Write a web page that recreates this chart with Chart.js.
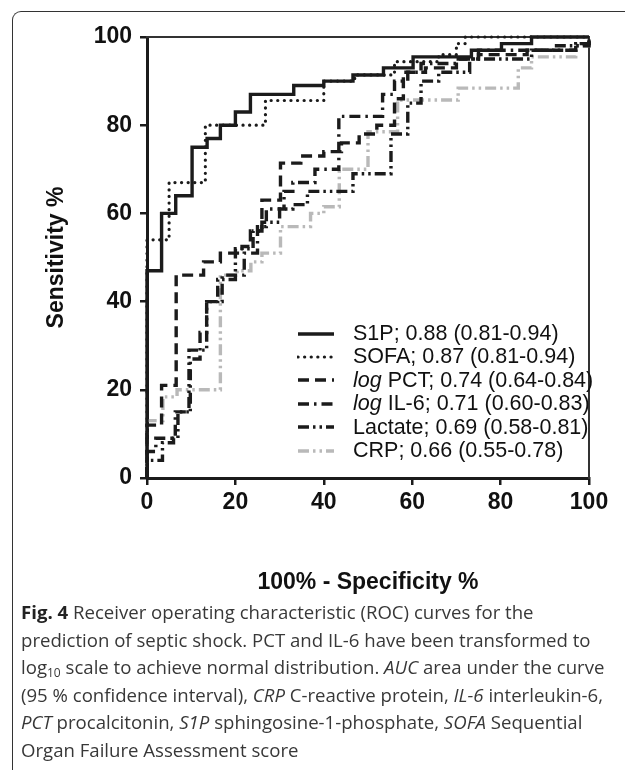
<!DOCTYPE html>
<html>
<head>
<meta charset="utf-8">
<script src="https://cdn.jsdelivr.net/npm/chart.js@4.4.1/dist/chart.umd.min.js"></script>
<style>
body { margin: 0; background: #fff; }
#fig { position: relative; width: 625px; height: 770px; overflow: hidden; background: #fff; }
#frame { position: absolute; left: 12px; top: 11px; width: 700px; height: 820px;
  border-top: 1.5px solid #333; border-left: 1.5px solid #333; border-top-left-radius: 9px; }
#chart { position: absolute; left: 0; top: 0; }
#legend { position: absolute; left: 297px; top: 322px; font: 21.5px "Liberation Sans", Arial, sans-serif; color: #111; }
.row { height: 23.4px; line-height: 23.4px; display: flex; align-items: center; white-space: nowrap; }
.row canvas { margin-right: 18px; }
#caption { position: absolute; left: 21px; top: 598px; font: 18.6px "Open Sans", sans-serif;
  line-height: 27.6px; color: #383838; white-space: nowrap; }
#caption sub { font-size: 12px; vertical-align: -3px; line-height: 0; }
</style>
</head>
<body>
<div id="fig">
  <div id="frame"></div>
  <canvas id="chart" width="625" height="600"></canvas>
  <div id="legend"></div>
  <div id="caption">
    <b style="color:#222">Fig. 4</b> Receiver operating characteristic (ROC) curves for the<br>
    prediction of septic shock. PCT and IL-6 have been transformed to<br>
    log<sub>10</sub> scale to achieve normal distribution. <i>AUC</i> area under the curve<br>
    (95 % confidence interval), <i>CRP</i> C-reactive protein, <i>IL-6</i> interleukin-6,<br>
    <i>PCT</i> procalcitonin, <i>S1P</i> sphingosine-1-phosphate, <i>SOFA</i> Sequential<br>
    Organ Failure Assessment score
  </div>
</div>
<script>
// 100% - specificity (x) and sensitivity (y), corner points of each ROC step
var s1pX = [0, 0, 3.3, 6.5, 10.2, 13.6, 16.6, 20, 23.4, 33.2, 40, 46.6, 53.5, 60.2, 73.4, 80.2, 87, 100];
var s1pY = [0, 47, 60, 64, 75, 77, 80, 83, 87, 89, 90, 91.4, 93, 95.5, 97, 98.5, 100, 100];

var sofaX = [0, 0, 5, 13.2, 26.8, 40, 47, 56, 66, 70, 72, 100];
var sofaY = [0, 54, 67, 80, 85.6, 90, 91.4, 94.4, 96, 98.5, 100, 100];

var pctX = [0, 0, 3.3, 6.6, 12.8, 16.6, 21.5, 23.4, 26, 30.2, 34.8, 40, 44, 48, 52, 56, 58, 63, 70, 75, 86, 97, 100];
var pctY = [0, 12, 21, 46, 49, 51, 52.5, 56, 63, 71.4, 73, 74, 76, 78, 80, 86, 92, 93, 95, 96, 97, 98.5, 100];

var il6X = [0, 0, 2, 6.4, 9.8, 12, 13.5, 17, 22, 25, 27, 31, 33, 38, 43.4, 53.3, 56, 59, 62, 70, 75, 97, 100];
var il6Y = [0, 6, 9, 15, 27, 33, 40, 46, 51, 57, 61, 65, 67, 70, 82, 87, 90, 92, 94, 95, 97, 98.5, 100];

var lacX = [0, 0, 3.5, 6, 7, 9.5, 13.5, 13.5, 16, 20, 24, 26, 30, 33, 36.3, 46.6, 55.2, 59, 62, 66, 73, 87, 92, 100];
var lacY = [0, 4, 8, 9, 15, 29, 31, 40, 45, 52, 56, 58, 61, 62, 65, 69, 78, 85, 90, 92, 95, 97, 98, 100];

var crpX = [0, 0, 3.6, 6.8, 16.6, 20.4, 23.5, 26, 30.2, 37, 40, 43.5, 47, 50, 56.7, 70.4, 84, 87, 94, 97, 100];
var crpY = [0, 13, 18.4, 20, 46, 47, 49, 51, 57, 60, 61.5, 70, 70, 78.5, 85.7, 88.4, 93, 95.5, 95.5, 98, 100];

var labels = [
  "S1P; 0.88 (0.81-0.94)",
  "SOFA; 0.87 (0.81-0.94)",
  "log PCT; 0.74 (0.64-0.84)",
  "log IL-6; 0.71 (0.60-0.83)",
  "Lactate; 0.69 (0.58-0.81)",
  "CRP; 0.66 (0.55-0.78)"
];
var tickValues = [0, 20, 40, 60, 80, 100];

function pts(xs, ys) {
  return xs.map(function (x, i) { return { x: x, y: ys[i] }; });
}

var black = "#1b1b1b";
var grey = "#b9b9b9";
var fontBold = { family: "'Liberation Sans', Arial, sans-serif", size: 23, weight: "bold" };
var titleFont = { family: "'Liberation Sans', Arial, sans-serif", size: 23, weight: "bold" };

var datasets = [
  { label: labels[0], data: pts(s1pX, s1pY), borderColor: black, borderWidth: 3.4, borderDash: [] },
  { label: labels[1], data: pts(sofaX, sofaY), borderColor: black, borderWidth: 3.2, borderDash: [0.1, 6.5], borderCapStyle: "round" },
  { label: labels[2], data: pts(pctX, pctY), borderColor: black, borderWidth: 3.4, borderDash: [11, 6] },
  { label: labels[3], data: pts(il6X, il6Y), borderColor: black, borderWidth: 3.4, borderDash: [11, 5, 2.5, 5] },
  { label: labels[4], data: pts(lacX, lacY), borderColor: black, borderWidth: 3.4, borderDash: [11, 4, 2.5, 4, 2.5, 4] },
  { label: labels[5], data: pts(crpX, crpY), borderColor: grey, borderWidth: 3.4, borderDash: [11, 4, 2.5, 4, 2.5, 4] }
];
datasets.forEach(function (d) {
  d.stepped = "before";
  d.pointRadius = 0;
  d.fill = false;
  d.clip = false;
});

var ctx = document.getElementById("chart").getContext("2d");
var myChart = new Chart(ctx, {
  type: "line",
  data: { datasets: datasets },
  options: {
    responsive: false,
    animation: false,
    layout: { padding: { top: 37, right: 36, left: 0, bottom: 0 } },
    plugins: { legend: { display: false }, tooltip: { enabled: false } },
    scales: {
      x: {
        type: "linear", min: 0, max: 100,
        afterBuildTicks: function (s) { s.ticks = tickValues.map(function (v) { return { value: v }; }); },
        ticks: { color: "#111", font: fontBold, padding: 4, maxRotation: 0 },
        grid: { drawOnChartArea: false, tickLength: 7, lineWidth: 2.5, color: black },
        border: { color: black, width: 3 },
        title: { display: true, text: "100% - Specificity %", color: "#111", font: titleFont, padding: { top: 0, bottom: 4 } },
        afterFit: function (s) { s.height = 122; }
      },
      y: {
        type: "linear", min: 0, max: 100,
        afterBuildTicks: function (s) { s.ticks = tickValues.map(function (v) { return { value: v }; }); },
        ticks: { color: "#111", font: fontBold, padding: 8 },
        grid: { drawOnChartArea: false, tickLength: 7, lineWidth: 2.5, color: black },
        border: { color: black, width: 3 },
        title: { display: true, text: "Sensitivity %", color: "#111", font: titleFont, padding: { top: 43, bottom: 0 } },
        afterFit: function (s) { s.width = 147; }
      },
      x2: {
        axis: "x", type: "linear", position: "top", min: 0, max: 100,
        ticks: { display: false }, grid: { display: false, drawTicks: false },
        border: { color: "#333", width: 2 },
        afterFit: function (s) { s.height = 0; }
      },
      y2: {
        axis: "y", type: "linear", position: "right", min: 0, max: 100,
        ticks: { display: false }, grid: { display: false, drawTicks: false },
        border: { color: "#333", width: 2 },
        afterFit: function (s) { s.width = 0; }
      }
    }
  }
});

// legend inside the plot, built from the datasets
var legend = document.getElementById("legend");
myChart.data.datasets.forEach(function (ds) {
  var row = document.createElement("div");
  row.className = "row";
  var c = document.createElement("canvas");
  c.width = 38; c.height = 12;
  var g = c.getContext("2d");
  g.strokeStyle = ds.borderColor;
  g.lineWidth = ds.borderWidth;
  g.lineCap = ds.borderCapStyle || "butt";
  g.setLineDash(ds.borderDash);
  g.beginPath(); g.moveTo(1, 6); g.lineTo(37, 6); g.stroke();
  row.appendChild(c);
  var span = document.createElement("span");
  var txt = ds.label;
  if (txt.indexOf("log ") === 0) {
    span.innerHTML = "<i>log</i>" + txt.slice(3);
  } else {
    span.textContent = txt;
  }
  row.appendChild(span);
  legend.appendChild(row);
});
</script>
</body>
</html>
